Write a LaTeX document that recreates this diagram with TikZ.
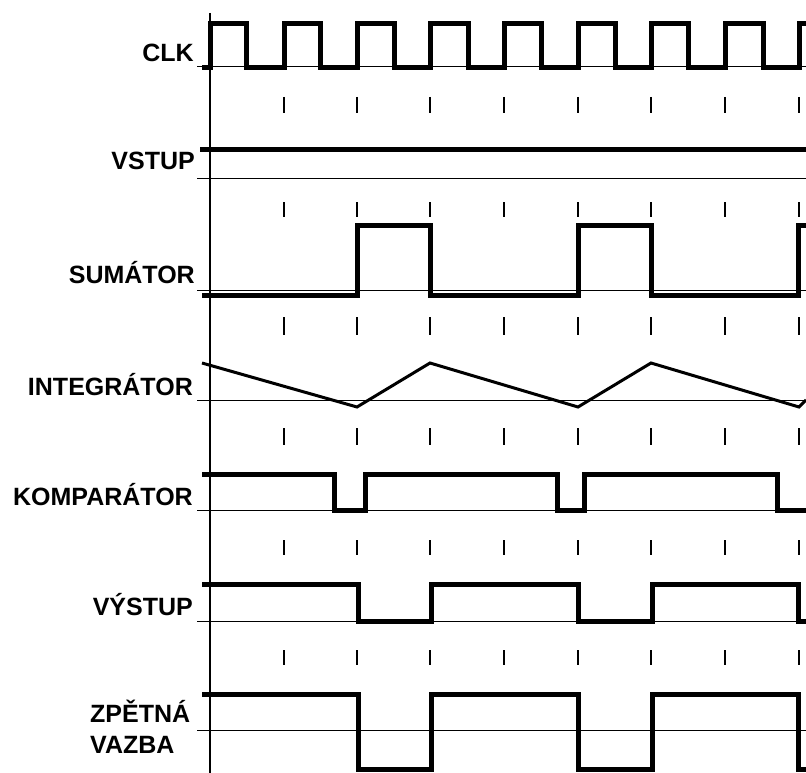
\documentclass[tikz,border=0pt]{standalone}
\usepackage{fontspec}
\setmainfont{Liberation Sans}
\begin{document}
\begin{tikzpicture}[x=1pt,y=-1pt,
  sig/.style={line width=5pt, line join=miter},
  ramp/.style={line width=3pt, line join=miter},
  baseln/.style={line width=1pt},
  tickmark/.style={line width=1.5pt},
  lab/.style={font=\bfseries\fontsize{25}{25}\selectfont, anchor=base east, inner sep=0pt},
  labw/.style={font=\bfseries\fontsize{25}{25}\selectfont, anchor=base west, inner sep=0pt}]
\useasboundingbox (0,0) rectangle (806,773);
% time axis
\draw[line width=1.5pt] (210,13) -- (210,773);
% reference lines
\foreach \y in {67,178,290,400,510,621,730}
  \draw[baseln] (197,\y) -- (806,\y);
% tick marks
\foreach \ya/\yb in {97/113,202/217,317/335,428/445,540/555,650/665}
  \foreach \x in {284,357,430,504,578,651,725,799}
    \draw[tickmark] (\x,\ya) -- (\x,\yb);
% labels
\node[lab] (clk) at (194,62) {CLK};
\node[lab] (vstup) at (195,170) {VSTUP};
\node[lab] (sum) at (195,283) {SUMÁTOR};
\node[lab] (int) at (193,395) {INTEGRÁTOR};
\node[lab] (kom) at (193,505) {KOMPARÁTOR};
\node[lab] (vys) at (193,615) {VÝSTUP};
\node[labw] (zp1) at (90,722) {ZPĚTNÁ};
\node[labw] (zp2) at (90,753) {VAZBA};
% CLK
\draw[sig] (202,68) -- (210,68) -- (210,24) -- (246,24) -- (246,68) -- (284,68) -- (284,24) -- (320,24) -- (320,68) -- (357,68) -- (357,24) -- (394,24) -- (394,68) -- (430,68) -- (430,24) -- (468,24) -- (468,68) -- (504,68) -- (504,24) -- (541,24) -- (541,68) -- (578,68) -- (578,24) -- (615,24) -- (615,68) -- (651,68) -- (651,24) -- (688,24) -- (688,68) -- (725,68) -- (725,24) -- (763,24) -- (763,68) -- (799,68) -- (799,24) -- (806,24);
% VSTUP
\draw[sig] (200,150) -- (806,150);
% SUMATOR
\draw[sig] (202,295) -- (357,295) -- (357,225) -- (430,225) -- (430,295) -- (578,295) -- (578,225) -- (651,225) -- (651,295) -- (798,295) -- (798,225) -- (806,225);
% INTEGRATOR
\draw[ramp] (202,363) -- (357,407) -- (430,363) -- (578,407) -- (651,363) -- (799,407) -- (806,400);
% KOMPARATOR
\draw[sig] (202,474) -- (334,474) -- (334,510) -- (365,510) -- (365,474) -- (557,474) -- (557,510) -- (584,510) -- (584,474) -- (777,474) -- (777,510) -- (806,510);
% VYSTUP
\draw[sig] (202,584) -- (358,584) -- (358,621) -- (431,621) -- (431,584) -- (578,584) -- (578,621) -- (652,621) -- (652,584) -- (798,584) -- (798,621) -- (806,621);
% ZPETNA VAZBA
\draw[sig] (202,694) -- (358,694) -- (358,769) -- (431,769) -- (431,694) -- (578,694) -- (578,769) -- (652,769) -- (652,694) -- (798,694) -- (798,769) -- (806,769);
\end{tikzpicture}
\end{document}
